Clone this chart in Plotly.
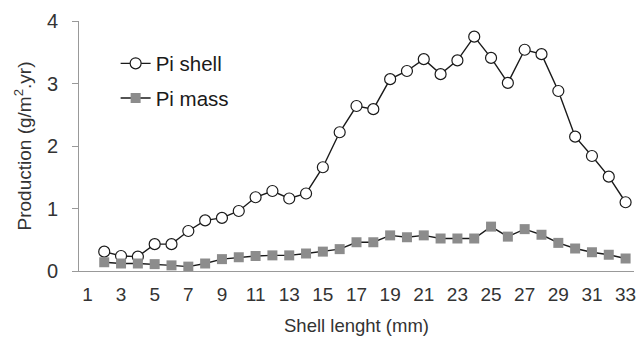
import plotly.graph_objects as go

shell_length = list(range(2, 34))
pi_shell = [0.31, 0.24, 0.23, 0.43, 0.43, 0.64, 0.81, 0.85, 0.96, 1.18, 1.28, 1.16, 1.24,
            1.66, 2.22, 2.64, 2.59, 3.07, 3.20, 3.39, 3.15, 3.37, 3.75, 3.41, 3.01, 3.54,
            3.47, 2.88, 2.15, 1.84, 1.51, 1.10]
pi_mass = [0.14, 0.12, 0.12, 0.11, 0.09, 0.07, 0.12, 0.19, 0.22, 0.24, 0.25, 0.25, 0.28,
           0.31, 0.35, 0.46, 0.46, 0.57, 0.54, 0.57, 0.52, 0.52, 0.52, 0.71, 0.55, 0.67,
           0.58, 0.45, 0.36, 0.30, 0.26, 0.20]
x_tick_values = list(range(1, 34, 2))
x_tick_labels = [str(v) for v in x_tick_values]
x_boundaries = [v + 0.5 for v in range(0, 34)]
y_ticks = [0, 1, 2, 3, 4]

font_family = "Liberation Sans, Arial, sans-serif"
text_color = "#333333"
axis_color = "#999999"

fig = go.Figure()
fig.add_trace(go.Scatter(
    x=shell_length, y=pi_shell, name="Pi shell", mode="lines+markers",
    legendgroup="a",
    line=dict(color="#1a1a1a", width=1.4),
    marker=dict(symbol="circle", size=11, color="white", line=dict(color="#1a1a1a", width=1.2)),
))
fig.add_trace(go.Scatter(
    x=shell_length, y=pi_mass, name="Pi mass", mode="lines+markers",
    legendgroup="b",
    line=dict(color="#1a1a1a", width=1.4),
    marker=dict(symbol="square", size=10, color="#8c8c8c", line=dict(width=0)),
))

fig.update_layout(
    width=639, height=338,
    margin=dict(l=79, r=5, t=21, b=67),
    paper_bgcolor="white", plot_bgcolor="white",
    font=dict(family=font_family, size=18, color=text_color),
    showlegend=True,
    legend=dict(x=0.066, y=0.91, xanchor="left", yanchor="top",
                bgcolor="rgba(0,0,0,0)", font=dict(size=20.5, color="#1a1a1a"),
                tracegroupgap=5, itemwidth=30),
    xaxis=dict(
        range=[0.5, 33.5], tickmode="array",
        tickvals=x_tick_values, ticktext=x_tick_labels,
        ticks="", showgrid=False, zeroline=False,
        showline=True, linecolor=axis_color, linewidth=1,
        tickfont=dict(size=19, color=text_color),
        ticklabelstandoff=6, automargin=False,
        title=dict(text="Shell lenght (mm)", font=dict(size=18.5, color=text_color), standoff=15),
    ),
    xaxis2=dict(
        range=[0.5, 33.5], overlaying="x", anchor="y", side="bottom",
        tickmode="array", tickvals=x_boundaries, showticklabels=False,
        ticks="outside", ticklen=6, tickcolor=axis_color,
        showgrid=False, zeroline=False, showline=False,
    ),
    yaxis=dict(
        range=[0, 4], tickmode="array", tickvals=y_ticks,
        ticks="outside", ticklen=6, tickcolor=axis_color,
        showgrid=False, zeroline=False,
        showline=True, linecolor=axis_color, linewidth=1,
        tickfont=dict(size=20, color=text_color),
        ticklabelstandoff=10, automargin=False,
        title=dict(text="Production (g/m<sup>2</sup>.yr)", font=dict(size=19, color=text_color), standoff=10),
    ),
)

fig.write_html("out.html")
